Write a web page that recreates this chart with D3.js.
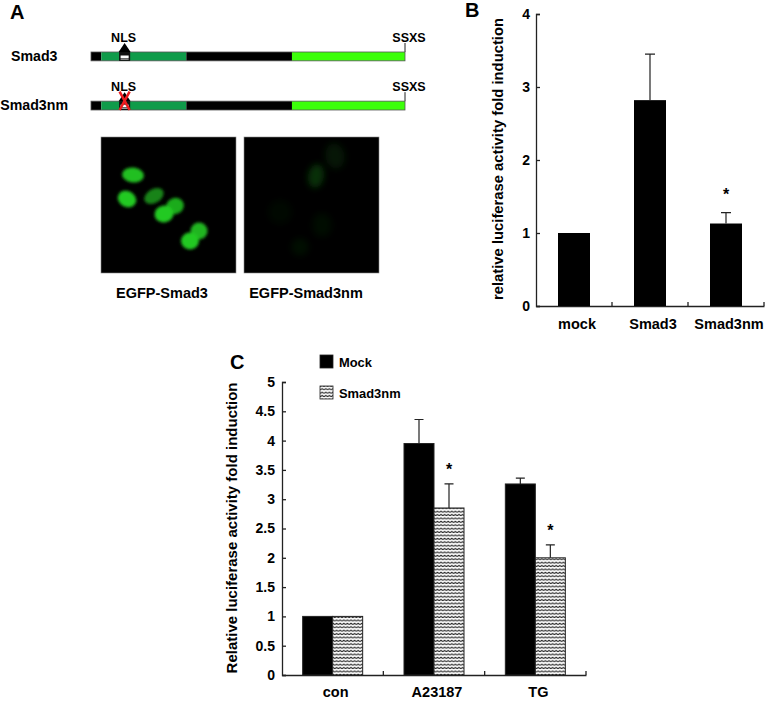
<!DOCTYPE html>
<html>
<head>
<meta charset="utf-8">
<script src="https://cdn.jsdelivr.net/npm/d3@7"></script>
<style>
  html, body { margin: 0; padding: 0; background: #fff; }
  text { font-family: "Liberation Sans", Arial, sans-serif; font-weight: bold; fill: #000; }
</style>
</head>
<body>
<div id="chart"></div>
<script>
// panel B
const catsB = ["mock", "Smad3", "Smad3nm"];
const valuesB = [1, 2.82, 1.13];
const errorsB = [0, 0.63, 0.15];
const starsB = [false, false, true];
const ticksB = [0, 1, 2, 3, 4];

// panel C
const catsC = ["con", "A23187", "TG"];
const seriesC = ["Mock", "Smad3nm"];
const mockC = [1, 3.95, 3.26];
const mockErrC = [0, 0.41, 0.1];
const nmC = [1, 2.85, 2];
const nmErrC = [0, 0.41, 0.22];
const starsC = [false, true, true];
const ticksC = [0, 0.5, 1, 1.5, 2, 2.5, 3, 3.5, 4, 4.5, 5];

// panel A, domain boundaries in residues
const constructs = ["Smad3", "Smad3nm"];
const domainStarts = [0, 14, 129, 272];
const domainEnds = [14, 129, 272, 425];
const domainColors = ["#000", "#0f9b4a", "#000", "#3cff0a"];
const nlsRange = [38, 53];
const proteinLength = 425;

// micrographs: [x, y, rx, ry, angle, brightness] in image units 0-135
const cellsLeft = [
  [32, 38, 11, 7.5, 5, 0.95],
  [26, 62, 9.5, 8, 28, 1],
  [53, 59, 10.5, 7, -30, 0.65],
  [63, 77, 9.5, 8.5, -10, 1],
  [74, 69, 9, 8, -20, 0.85],
  [89, 104, 9, 8.5, 0, 1],
  [98, 94, 8.5, 8.5, 0, 0.9]
];
const cellsRight = [
  [91, 19, 10, 13, -10, 0.11],
  [72, 39, 8, 12, 10, 0.24],
  [36, 75, 12, 12, 0, 0.04],
  [78, 88, 10, 12, 0, 0.06],
  [56, 110, 9, 9, 0, 0.07]
];

const w = 765, h = 702;
const svg = d3.select("#chart").append("svg")
  .attr("width", w)
  .attr("height", h)
  .style("display", "block");

const defs = svg.append("defs");
defs.append("filter").attr("id", "blur")
  .attr("x", "-50%").attr("y", "-50%").attr("width", "200%").attr("height", "200%")
  .append("feGaussianBlur").attr("stdDeviation", 1.6);
defs.append("filter").attr("id", "blurWide")
  .attr("x", "-50%").attr("y", "-50%").attr("width", "200%").attr("height", "200%")
  .append("feGaussianBlur").attr("stdDeviation", 3.2);

// small zigzag fill for the Smad3nm bars
const hatch = defs.append("pattern").attr("id", "hatch")
  .attr("patternUnits", "userSpaceOnUse")
  .attr("width", 3.6).attr("height", 3.4);
hatch.append("rect").attr("width", 3.6).attr("height", 3.4).attr("fill", "#fff");
hatch.append("path")
  .attr("d", "M0 2.4 L1.8 1 L3.6 2.4")
  .attr("fill", "none").attr("stroke", "#222").attr("stroke-width", 1);

const label = (x, y, t, size, anchor) => svg.append("text")
  .attr("x", x).attr("y", y)
  .attr("text-anchor", anchor || "start")
  .style("font-size", size + "px")
  .text(t);

const styleAxis = g => {
  g.selectAll("path, line").attr("stroke", "#222").attr("stroke-width", 1.3);
  g.selectAll("text").style("font-size", "14px");
};

// ---- panel A ----
label(10, 19, "A", 20);
const xProt = d3.scaleLinear().domain([0, proteinLength]).range([91, 405]);
const yProt = d3.scaleBand().domain(constructs).range([52, 110]).paddingInner(0.82);

constructs.forEach((name, k) => {
  const y0 = yProt(name), bh = yProt.bandwidth();
  label(k ? 68 : 57.5, y0 + bh, name, 14.2, "end");
  label((xProt(nlsRange[0]) + xProt(nlsRange[1])) / 2 - 1, y0 - 10, "NLS", 12.5, "middle");
  label(xProt(proteinLength) + 4, y0 - 10, "SSXS", 12.5, "middle");

  svg.append("line")
    .attr("x1", xProt(proteinLength)).attr("x2", xProt(proteinLength))
    .attr("y1", y0 - 9).attr("y2", y0)
    .attr("stroke", "#222").attr("stroke-width", 1);

  svg.append("g").selectAll("rect")
    .data(domainStarts)
    .join("rect")
    .attr("x", d => xProt(d))
    .attr("y", y0)
    .attr("width", (d, i) => xProt(domainEnds[i]) - xProt(d))
    .attr("height", bh)
    .attr("fill", (d, i) => domainColors[i]);
  svg.append("rect")
    .attr("x", xProt(0)).attr("y", y0)
    .attr("width", xProt(proteinLength) - xProt(0)).attr("height", bh)
    .attr("fill", "none").attr("stroke", "#555").attr("stroke-width", 0.8);

  // NLS box with arrow head
  const nx0 = xProt(nlsRange[0]), nx1 = xProt(nlsRange[1]), nc = (nx0 + nx1) / 2;
  svg.append("rect").attr("x", nx0).attr("y", y0)
    .attr("width", nx1 - nx0).attr("height", bh).attr("fill", "#111");
  svg.append("rect").attr("x", nx0 + 1.5).attr("y", y0 + 3.5)
    .attr("width", nx1 - nx0 - 3).attr("height", 2.5).attr("fill", "#fff");
  svg.append("rect").attr("x", nx0 + 1.5).attr("y", y0 + bh - 2.5)
    .attr("width", nx1 - nx0 - 3).attr("height", 1.5).attr("fill", "#999");
  svg.append("path")
    .attr("d", `M${nc} ${y0 - 9} L${nc + 6} ${y0} L${nc - 6} ${y0} Z`)
    .attr("fill", "#000");
  if (k === 1) {
    svg.append("path")
      .attr("d", `M${nc - 5} ${y0 - 9.5} L${nc + 5} ${y0 + bh} M${nc + 5} ${y0 - 9.5} L${nc - 5} ${y0 + bh}`)
      .attr("stroke", "#f01c20").attr("stroke-width", 2.6).attr("fill", "none");
  }
});

// micrographs
const imgScale = d3.scaleLinear().domain([0, 135]).range([0, 135]);
const drawImage = (x, y, cells, caption, capX, filter) => {
  const g = svg.append("g").attr("transform", `translate(${x},${y})`);
  g.append("rect").attr("width", imgScale(135)).attr("height", imgScale(136))
    .attr("fill", "#000").attr("stroke", "#888").attr("stroke-width", 0.6);
  const inner = g.append("g").attr("filter", `url(#${filter})`);
  inner.selectAll("ellipse").data(cells).join("ellipse")
    .attr("transform", d => `translate(${imgScale(d[0])},${imgScale(d[1])}) rotate(${d[4]})`)
    .attr("rx", d => imgScale(d[2]))
    .attr("ry", d => imgScale(d[3]))
    .attr("fill", "#22c922")
    .attr("opacity", d => d[5]);
  label(capX, 298, caption, 14.5, "middle");
};
drawImage(101, 137, cellsLeft, "EGFP-Smad3", 162, "blur");
drawImage(244, 137, cellsRight, "EGFP-Smad3nm", 306, "blurWide");

// ---- panel B ----
label(465, 17, "B", 20);
const xB = d3.scaleBand().domain(catsB).range([536, 764]);
const yB = d3.scaleLinear().domain([0, 4]).range([306, 14]);
const barB = 32;

svg.append("g").attr("transform", "translate(536,0)")
  .call(d3.axisLeft(yB).tickValues(ticksB).tickFormat(d3.format("d")).tickSize(-4).tickPadding(6))
  .call(styleAxis);
svg.append("g").attr("transform", "translate(0,306)")
  .call(d3.axisBottom(xB).tickSize(0).tickPadding(13))
  .call(styleAxis)
  .call(g => g.selectAll(".tick text").attr("dx", 3).style("font-size", "14.5px"));
svg.append("g").selectAll("line")
  .data(catsB)
  .join("line")
  .attr("x1", d => xB(d) + xB.bandwidth()).attr("x2", d => xB(d) + xB.bandwidth())
  .attr("y1", yB(0)).attr("y2", yB(0) - 4)
  .attr("stroke", "#222").attr("stroke-width", 1.3);

svg.append("g").selectAll("rect")
  .data(catsB)
  .join("rect")
  .attr("x", d => xB(d) + (xB.bandwidth() - barB) / 2)
  .attr("y", (d, i) => yB(valuesB[i]))
  .attr("width", barB)
  .attr("height", (d, i) => yB(0) - yB(valuesB[i]))
  .attr("fill", "#000");

catsB.forEach((c, i) => {
  if (!errorsB[i]) return;
  const cx = xB(c) + xB.bandwidth() / 2, top = yB(valuesB[i] + errorsB[i]);
  svg.append("path")
    .attr("d", `M${cx} ${yB(valuesB[i])} V${top} M${cx - 5} ${top} H${cx + 5}`)
    .attr("stroke", "#222").attr("stroke-width", 1.2).attr("fill", "none");
  if (starsB[i]) label(cx, top - 13, "*", 16, "middle");
});

svg.append("text")
  .attr("transform", "translate(503,159) rotate(-90)")
  .attr("text-anchor", "middle")
  .style("font-size", "14.8px")
  .text("relative luciferase activity fold induction");

// ---- panel C ----
label(230, 369, "C", 20);
const xC = d3.scaleBand().domain(catsC).range([282, 586]);
const xSub = d3.scaleBand().domain(seriesC).range([0, 60]);
const yC = d3.scaleLinear().domain([0, 5]).range([675, 382]);
const seriesVals = [mockC, nmC], seriesErrs = [mockErrC, nmErrC];
const groupX = c => xC(c) + (xC.bandwidth() - 60) / 2;

svg.append("g").attr("transform", "translate(282,0)")
  .call(d3.axisLeft(yC).tickValues(ticksC).tickFormat(d3.format("")).tickSize(-4).tickPadding(7))
  .call(styleAxis);
svg.append("g").attr("transform", "translate(0,675)")
  .call(d3.axisBottom(xC).tickSize(0).tickPadding(12))
  .call(styleAxis)
  .call(g => g.selectAll(".tick text").attr("dx", 3).style("font-size", "14.5px"));
svg.append("g").selectAll("line")
  .data(catsC)
  .join("line")
  .attr("x1", d => xC(d) + xC.bandwidth()).attr("x2", d => xC(d) + xC.bandwidth())
  .attr("y1", yC(0)).attr("y2", yC(0) - 4)
  .attr("stroke", "#222").attr("stroke-width", 1.3);

seriesC.forEach((s, k) => {
  svg.append("g").selectAll("rect")
    .data(catsC)
    .join("rect")
    .attr("x", d => groupX(d) + xSub(s))
    .attr("y", (d, i) => yC(seriesVals[k][i]))
    .attr("width", xSub.bandwidth())
    .attr("height", (d, i) => yC(0) - yC(seriesVals[k][i]))
    .attr("fill", k ? "url(#hatch)" : "#000")
    .attr("stroke", "#222")
    .attr("stroke-width", 1);

  catsC.forEach((c, i) => {
    if (!seriesErrs[k][i]) return;
    const cx = groupX(c) + xSub(s) + xSub.bandwidth() / 2;
    const top = yC(seriesVals[k][i] + seriesErrs[k][i]);
    svg.append("path")
      .attr("d", `M${cx} ${yC(seriesVals[k][i])} V${top} M${cx - 4.5} ${top} H${cx + 4.5}`)
      .attr("stroke", "#222").attr("stroke-width", 1.2).attr("fill", "none");
    if (k === 1 && starsC[i]) label(cx, top - 9, "*", 16, "middle");
  });
});

svg.append("text")
  .attr("transform", "translate(237,528) rotate(-90)")
  .attr("text-anchor", "middle")
  .style("font-size", "15px")
  .text("Relative luciferase activity fold induction");

// legend
seriesC.forEach((s, k) => {
  const ly = 355 + k * 31;
  svg.append("rect")
    .attr("x", 320).attr("y", ly)
    .attr("width", 13).attr("height", 13)
    .attr("fill", k ? "url(#hatch)" : "#000")
    .attr("stroke", "#222").attr("stroke-width", 0.8);
  label(339, ly + 11.5, s, 12.9);
});
</script>
</body>
</html>
